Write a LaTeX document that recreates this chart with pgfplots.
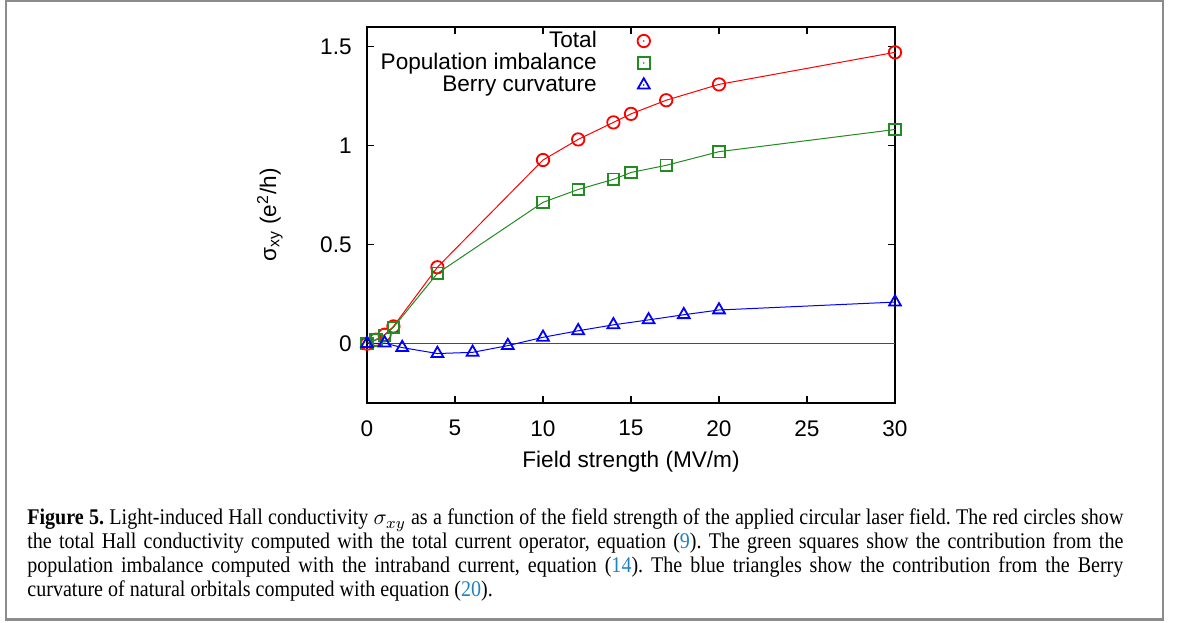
\documentclass[border=0pt]{standalone}
\usepackage{fontspec}
\setmainfont{Liberation Sans}
\newfontfamily\capfont[FakeStretch=0.895]{Liberation Serif}
\usepackage{pgfplots}
\pgfplotsset{compat=1.18}
\definecolor{gpred}{RGB}{255,0,0}
\definecolor{gpgreen}{RGB}{34,139,34}
\definecolor{gpblue}{RGB}{0,0,255}
\definecolor{linkblue}{RGB}{30,130,195}
\definecolor{framegray}{RGB}{140,140,140}
\pgfplotsset{gplegend/.style={legend image code/.code={\path[draw=none,fill=none] (0pt,0pt) -- (26pt,0pt); \draw[##1] plot coordinates {(23.5pt,0pt)}; \fill[##1,draw=none] (23.5pt,0pt) circle (0.45pt);}}}
\begin{document}
\begin{tikzpicture}
\path[use as bounding box] (0pt,0pt) rectangle (589.5pt,-311pt);
\draw[framegray, line width=1.2pt] (3pt,0.3pt) -- (3pt,-309.7pt) -- (581.5pt,-309.7pt) -- (581.5pt,0.3pt);
\draw[framegray, line width=1.2pt] (3pt,-0.2pt) -- (581.5pt,-0.2pt);
\begin{axis}[
  at={(183.5pt,-201.5pt)}, anchor=south west,
  scale only axis, width=264pt, height=188pt,
  xmin=0, xmax=30, ymin=-0.3, ymax=1.6,
  xtick={0,5,...,30}, ytick={0,0.5,1,1.5},
  tick align=inside, major tick length=3.5pt,
  xtick pos=both, ytick pos=both,
  axis line style={line width=0.6pt},
  every tick/.style={black, line width=0.6pt},
  font=\fontsize{11.3}{13.5}\selectfont,
  /pgf/number format/assume math mode=true,
  xticklabel style={inner sep=0pt, yshift=-8.5pt},
  yticklabel style={inner sep=0pt, xshift=-7.5pt},
  xlabel={Field strength (MV/m)},
  ylabel={σ\textsubscript{xy} (e\textsuperscript{2}/h)},
  x label style={at={(axis description cs:0.5,-0.157)}, anchor=center},
  y label style={at={(axis description cs:-0.184,0.5)}, anchor=center},
  legend plot pos=right,
  legend cell align=right,
  legend style={draw=none, fill=none, inner sep=0pt, outer sep=0pt,
    at={(axis description cs:0.536,0.992)}, anchor=north east,
    nodes={inner sep=0pt, text height=8.5pt, text depth=2.5pt},
    row sep=0pt, column sep=0pt},
  clip=false,
]
\addplot[black!70, line width=0.7pt, forget plot] coordinates {(0,0) (30,0)};
\addplot[gpred, line width=0.5pt, mark=o, mark size=3.1pt, mark options={line width=0.9pt}, gplegend] coordinates {
(0,0) (0.5,0.02) (1,0.045) (1.5,0.087) (4,0.386) (10,0.928) (12,1.032) (14,1.118) (15,1.161) (17,1.23) (20,1.31) (30,1.472)};
\addlegendentry{Total}
\addplot[gpgreen, line width=0.5pt, mark=square, mark size=2.9pt, mark options={line width=0.9pt}, gplegend] coordinates {
(0,0) (0.5,0.018) (1,0.042) (1.5,0.082) (4,0.355) (10,0.714) (12,0.779) (14,0.83) (15,0.865) (17,0.901) (20,0.97) (30,1.082)};
\addlegendentry{Population imbalance}
\addplot[gpblue, line width=0.5pt, mark=triangle, mark size=3.4pt, mark options={line width=0.9pt}, gplegend] coordinates {
(0,0) (1,0.003) (2,-0.02) (4,-0.05) (6,-0.044) (8,-0.01) (10,0.032) (12,0.065) (14,0.095) (16,0.12) (18,0.146) (20,0.17) (30,0.21)};
\addlegendentry{Berry curvature}
\end{axis}
\node[anchor=north west, inner sep=0pt, text width=548pt, align=justify,
  font=\capfont\fontsize{11.2}{11.9}\selectfont\frenchspacing] at (13.5pt,-254.4pt) {%
\textbf{Figure 5.} Light-induced Hall conductivity $\sigma_{xy}$ as a function of the field strength of the applied circular laser field. The red circles show\linebreak
the total Hall conductivity computed with the total current operator, equation (\textcolor{linkblue}{9}). The green squares show the contribution from the\linebreak
population imbalance computed with the intraband current, equation (\textcolor{linkblue}{14}). The blue triangles show the contribution from the Berry\linebreak
curvature of natural orbitals computed with equation (\textcolor{linkblue}{20}).};
\end{tikzpicture}
\end{document}
